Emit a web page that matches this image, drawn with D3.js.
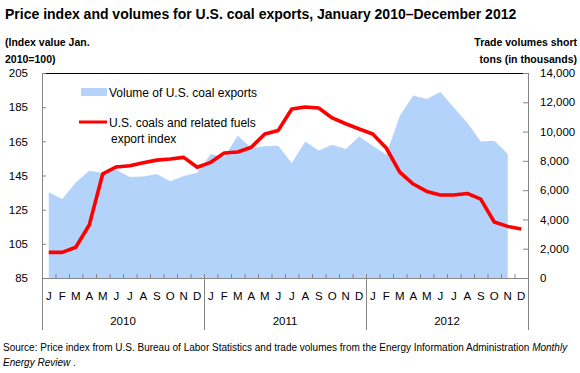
<!DOCTYPE html>
<html>
<head>
<meta charset="utf-8">
<style>
  body { margin: 0; background: #fff; }
  svg { font-family: 'Liberation Sans', Arial, sans-serif; display: block; }
  .axis .domain { stroke: #868686; }
  .axis .tick line { stroke: #868686; }
  .axis text { fill: #000; }
</style>
</head>
<body>
<svg width="580" height="373"></svg>
<script src="https://d3js.org/d3.v7.min.js"></script>
<script>
// month letters, years
const monthLetters = ["J", "F", "M", "A", "M", "J", "J", "A", "S", "O", "N", "D"];
const years = ["2010", "2011", "2012"];

// thousand short tons, Jan 2010 - Nov 2012
const volume = [
  5850, 5400, 6530, 7330, 7170, 7400, 6900, 6940, 7100, 6600, 6960, 7190,
  8470, 8240, 9740, 8880, 8990, 9040, 7850, 9330, 8710, 9100, 8810, 9670,
  9040, 8420, 11060, 12470, 12220, 12700, 11650, 10600, 9330, 9380, 8480
];

// price index, Jan 2010 = 100
const priceIndex = [
  100, 100, 103, 116, 146, 150, 150.7, 152.5, 154, 154.7, 155.6, 149.8,
  152.7, 158.2, 158.8, 161.5, 169.3, 171.4, 183.9, 185.1, 184.5, 178.7, 175.3, 172.2,
  169.3, 161.1, 147, 140, 135.7, 133.6, 133.6, 134.5, 131.2, 117.8, 115.2, 113.7
];

const leftTicks = [85, 105, 125, 145, 165, 185, 205];
const rightTicks = [0, 2000, 4000, 6000, 8000, 10000, 12000, 14000];

const svg = d3.select("svg");
const margin = { top: 73, right: 52, bottom: 95, left: 42 };
const width = 580, height = 373;
const plotBottom = height - margin.bottom;   // 278
const plotRight = width - margin.right;      // 528

const idx = d3.range(years.length * 12);

let x = d3.scaleBand()
  .domain(idx)
  .range([margin.left, plotRight]);

let xLin = d3.scaleLinear()
  .domain([0, idx.length])
  .range([margin.left, plotRight]);

let yL = d3.scaleLinear()
  .domain([85, 205])
  .range([plotBottom, margin.top]);

let yR = d3.scaleLinear()
  .domain([0, 14000])
  .range([plotBottom, margin.top]);

const cx = i => x(i) + x.bandwidth() / 2;

// volume area
let area = d3.area()
  .x((d, i) => cx(i))
  .y0(yR(0))
  .y1(d => yR(d));

svg.append("path")
  .datum(volume)
  .attr("fill", "#b3d3fb")
  .attr("d", area);

// top border of plot area
svg.append("line")
  .attr("x1", margin.left).attr("x2", plotRight)
  .attr("y1", margin.top + 0.5).attr("y2", margin.top + 0.5)
  .attr("stroke", "#000");

// price line
let line = d3.line()
  .x((d, i) => cx(i))
  .y(d => yL(d));

svg.append("path")
  .datum(priceIndex)
  .attr("fill", "none")
  .attr("stroke", "#ff0000")
  .attr("stroke-width", 3.6)
  .attr("stroke-linejoin", "round")
  .attr("d", line);

// left axis
svg.append("g")
  .attr("class", "axis")
  .attr("transform", `translate(${margin.left},0)`)
  .call(d3.axisLeft(yL).tickValues(leftTicks).tickSizeInner(-4).tickSizeOuter(0).tickPadding(14))
  .call(g => g.selectAll("text").attr("font-size", 11.5))
  .call(g => g.select(".domain").attr("d", `M0.5,${margin.top}V${plotBottom + 52}`));

// right axis
svg.append("g")
  .attr("class", "axis")
  .attr("transform", `translate(${plotRight},0)`)
  .call(d3.axisRight(yR).tickValues(rightTicks).tickSizeInner(-5).tickSizeOuter(0).tickPadding(12)
    .tickFormat(d3.format(",")))
  .call(g => g.selectAll("text").attr("font-size", 11.5))
  .call(g => g.select(".domain").attr("d", `M0.5,${margin.top}V${plotBottom + 52}`));

// month ticks on the category axis
svg.append("g")
  .attr("class", "axis")
  .attr("transform", `translate(0,${plotBottom})`)
  .call(d3.axisBottom(xLin).tickValues(idx.slice(1)).tickSizeInner(-4).tickSizeOuter(0).tickFormat(""));

// year separators
svg.append("g")
  .attr("class", "axis")
  .attr("transform", `translate(0,${plotBottom})`)
  .call(d3.axisBottom(xLin).tickValues([12, 24]).tickSize(52).tickFormat(""))
  .call(g => g.select(".domain").remove());

// month labels
svg.append("g")
  .attr("class", "axis")
  .attr("transform", `translate(0,${plotBottom})`)
  .call(d3.axisBottom(x).tickSize(0).tickPadding(14).tickFormat(i => monthLetters[i % 12]))
  .call(g => g.select(".domain").remove())
  .call(g => g.selectAll("text").attr("font-size", 11.5));

// year labels
let xYear = d3.scaleBand().domain(years).range([margin.left, plotRight]);
svg.append("g")
  .attr("class", "axis")
  .attr("transform", `translate(0,${plotBottom})`)
  .call(d3.axisBottom(xYear).tickSize(0).tickPadding(39))
  .call(g => g.select(".domain").remove())
  .call(g => g.selectAll("text").attr("font-size", 11.5));

// title
svg.append("text")
  .attr("x", 5).attr("y", 19)
  .attr("font-size", 14)
  .attr("font-weight", "bold")
  .text("Price index and volumes for U.S. coal exports, January 2010\u2013December 2012");

// axis titles
let lt = svg.append("text").attr("font-size", 10.5).attr("font-weight", "bold");
lt.append("tspan").attr("x", 5).attr("y", 46).text("(Index value Jan.");
lt.append("tspan").attr("x", 5).attr("y", 63).text("2010=100)");

let rt = svg.append("text").attr("font-size", 10.5).attr("font-weight", "bold").attr("text-anchor", "end");
rt.append("tspan").attr("x", 577).attr("y", 46).text("Trade volumes short");
rt.append("tspan").attr("x", 577).attr("y", 63).text("tons (in thousands)");

// legend
let legend = svg.append("g").attr("font-size", 12);
legend.append("rect")
  .attr("x", 81).attr("y", 88).attr("width", 26).attr("height", 8)
  .attr("fill", "#b3d3fb");
legend.append("text").attr("x", 109).attr("y", 96.5).text("Volume of U.S. coal exports");
legend.append("line")
  .attr("x1", 79).attr("x2", 107).attr("y1", 122).attr("y2", 122)
  .attr("stroke", "#ff0000").attr("stroke-width", 3);
legend.append("text").attr("x", 109).attr("y", 126.5).text("U.S. coals and related fuels");
legend.append("text").attr("x", 111).attr("y", 142.5).text("export index");

// source note
let src = svg.append("text").attr("font-size", 10);
src.append("tspan").attr("x", 3).attr("y", 351)
  .text("Source: Price index from U.S. Bureau of Labor Statistics and trade volumes from the Energy Information Administration ");
src.append("tspan").attr("font-style", "italic").text("Monthly");
svg.append("text").attr("font-size", 10).attr("x", 3).attr("y", 366)
  .call(t => t.append("tspan").attr("font-style", "italic").text("Energy Review"))
  .call(t => t.append("tspan").text(" ."));
</script>
</body>
</html>
